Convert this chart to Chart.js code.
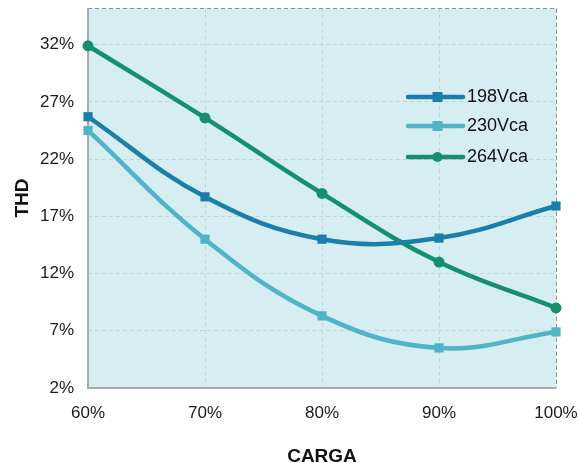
<!DOCTYPE html>
<html>
<head>
<meta charset="utf-8">
<script src="https://cdn.jsdelivr.net/npm/chart.js@4"></script>
<style>
html,body{margin:0;padding:0;background:#fff;}
#wrap{width:579px;height:463px;position:relative;}
</style>
</head>
<body>
<div id="wrap"><canvas id="c" width="579" height="463"></canvas></div>
<script>
const categories = [60, 70, 80, 90, 100];
const yTicks = [2, 7, 12, 17, 22, 27, 32];
const s198 = [25.7, 18.7, 15.0, 15.1, 17.9];
const s230 = [24.5, 15.0, 8.3, 5.5, 6.9];
const s264 = [31.9, 25.6, 19.0, 13.0, 9.0];
const seriesNames = ['198Vca', '230Vca', '264Vca'];

const colors = ['#1b7fa9', '#4fb4c7', '#15906e'];
const FONT = '"Liberation Sans", Arial, sans-serif';

const bgPlugin = {
  id: 'bg',
  beforeDraw(chart) {
    const {ctx, chartArea: a} = chart;
    ctx.save();
    ctx.fillStyle = '#d6edf2';
    ctx.fillRect(a.left, a.top, a.right - a.left, a.bottom - a.top);
    ctx.restore();
  },
  beforeDatasetsDraw(chart) {
    const {ctx, chartArea: a} = chart;
    ctx.save();
    ctx.strokeStyle = '#8a9497';
    ctx.lineWidth = 1;
    ctx.setLineDash([4, 3]);
    ctx.beginPath();
    ctx.moveTo(a.left, a.top + 0.5);
    ctx.lineTo(a.right + 0.5, a.top + 0.5);
    ctx.lineTo(a.right + 0.5, a.bottom);
    ctx.stroke();
    ctx.setLineDash([]);
    ctx.strokeStyle = '#a9a9a9';
    ctx.lineWidth = 2;
    ctx.beginPath();
    ctx.moveTo(a.left, a.top);
    ctx.lineTo(a.left, a.bottom);
    ctx.lineTo(a.right, a.bottom);
    ctx.stroke();
    ctx.restore();
  }
};

const legendPlugin = {
  id: 'customLegend',
  afterDraw(chart) {
    const {ctx} = chart;
    const x0 = 408, x1 = 463, ys = [97, 126, 157];
    ctx.save();
    chart.data.datasets.forEach((ds, i) => {
      const y = ys[i];
      ctx.strokeStyle = ds.borderColor;
      ctx.lineWidth = 4.5;
      ctx.lineCap = 'round';
      ctx.beginPath();
      ctx.moveTo(x0, y);
      ctx.lineTo(x1, y);
      ctx.stroke();
      ctx.fillStyle = ds.borderColor;
      const cx = (x0 + x1) / 2 + 2;
      if (ds.pointStyle === 'circle') {
        ctx.beginPath();
        ctx.arc(cx, y, 5, 0, Math.PI * 2);
        ctx.fill();
      } else {
        ctx.fillRect(cx - 5, y - 5, 10, 10);
      }
      ctx.fillStyle = '#111';
      ctx.font = '18px ' + FONT;
      ctx.textBaseline = 'middle';
      ctx.textAlign = 'left';
      ctx.fillText(ds.label, 467, y);
    });
    ctx.restore();
  }
};

const mkDs = (label, data, color, style) => ({
  label, data: data.map((v, i) => ({x: categories[i], y: v})),
  borderColor: color, backgroundColor: color,
  borderWidth: 4.5, tension: 0.4,
  pointStyle: style, pointRadius: style === 'circle' ? 5.5 : 6.5,
  pointBorderWidth: 0, clip: false
});

new Chart(document.getElementById('c'), {
  type: 'line',
  data: {
    datasets: [
      mkDs(seriesNames[0], s198, colors[0], 'rect'),
      mkDs(seriesNames[1], s230, colors[1], 'rect'),
      mkDs(seriesNames[2], s264, colors[2], 'circle')
    ]
  },
  options: {
    responsive: false,
    animation: false,
    devicePixelRatio: 1,
    layout: {padding: {top: 8, right: 23, left: 0, bottom: 0}},
    plugins: {legend: {display: false}, tooltip: {enabled: false}},
    scales: {
      x: {
        type: 'linear', min: 60, max: 100,
        afterBuildTicks: s => { s.ticks = categories.map(v => ({value: v})); },
        afterFit: s => { s.height = 75; s.paddingLeft = 0; s.paddingRight = 0; },
        grid: {color: '#c3d3d7', lineWidth: 1, drawTicks: false},
        border: {display: false, dash: [4, 3]},
        ticks: {
          color: '#1a1a1a', font: {size: 17, family: FONT},
          padding: 15, callback: v => v + '%'
        },
        title: {display: true, text: 'CARGA', color: '#111', padding: {top: 0, bottom: -5},
          font: {size: 19, weight: 'bold', family: FONT}}
      },
      y: {
        type: 'linear', min: 2, max: 35.2,
        afterBuildTicks: s => { s.ticks = yTicks.map(v => ({value: v})); },
        afterFit: s => { s.width = 88; s.paddingTop = 0; s.paddingBottom = 0; },
        grid: {color: '#c3d3d7', lineWidth: 1, drawTicks: false},
        border: {display: false, dash: [4, 3]},
        ticks: {
          color: '#1a1a1a', font: {size: 17, family: FONT},
          padding: 14, callback: v => v + '%'
        },
        title: {display: true, text: 'THD', color: '#111', padding: {top: 11, bottom: 0},
          font: {size: 19, weight: 'bold', family: FONT}}
      }
    }
  },
  plugins: [bgPlugin, legendPlugin]
});
</script>
</body>
</html>
